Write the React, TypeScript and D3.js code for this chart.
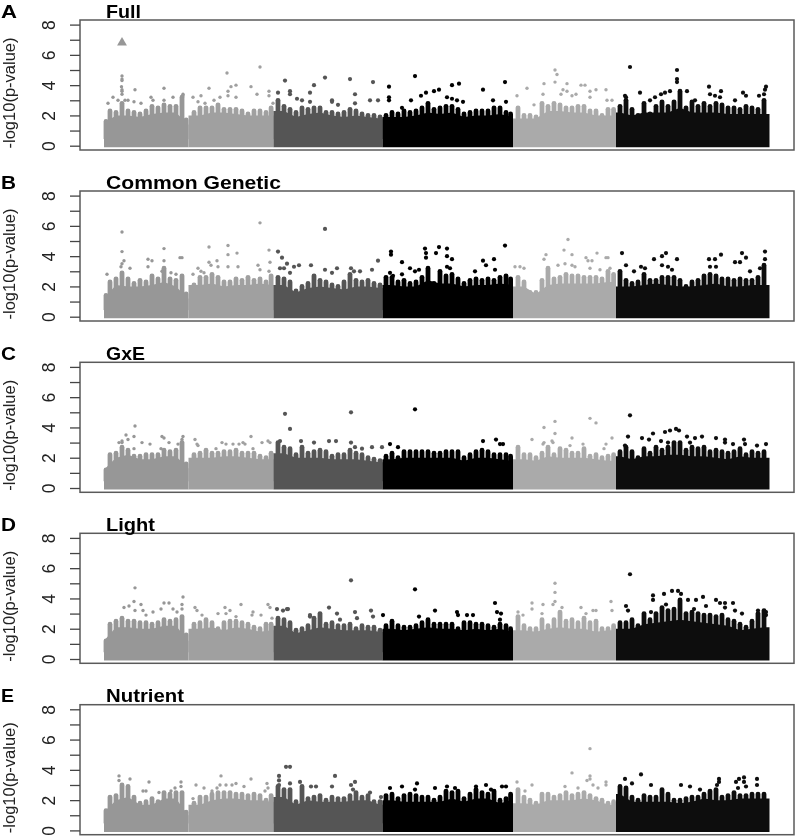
import * as d3 from 'd3';
import React, { useEffect, useRef } from 'react';

const panelLetters = ['A', 'B', 'C', 'D', 'E'];
const panelTitles = ['Full', 'Common Genetic', 'GxE', 'Light', 'Nutrient'];
const titleWidths = [35, 175, 39, 49, 78];
const letterWidths = [16, 15, 15, 15, 13];
const chromStarts = [104, 188.5, 273.5, 382.5, 513, 616];
const chromEnds = [188.5, 273.5, 382.5, 513, 616, 769.5];
const chromColors = ['#979797', '#a0a0a0', '#555555', '#000000', '#aaaaaa', '#0e0e0e'];

// tops of the point columns, read every 6 units from position 104
const fullTop = [
  1.6, 2.3, 2.2, 2.8, 2.3, 2.2, 2.1, 2.3, 2.6, 2.5, 2.7, 2.6, 2.6, 3.2, 1.7,
  2.2, 2.5, 2.5, 2.5, 2.7, 2.4, 2.4, 2.4, 2.3, 2.1, 2.3, 2.3, 2.2, 2.5,
  3.0, 2.6, 2.4, 2.2, 2.5, 2.4, 2.5, 2.5, 2.2, 2.2, 2.1, 2.2, 2.4, 2.3, 2.1, 2.0, 2.0, 1.9,
  2.0, 2.2, 2.1, 2.3, 2.2, 2.3, 2.5, 2.8, 2.4, 2.5, 2.6, 2.6, 2.4, 2.1, 2.2, 2.3, 2.3, 2.3, 2.5, 2.5, 2.2, 2.1,
  2.5, 2.0, 2.0, 1.9, 2.8, 2.6, 2.8, 2.7, 2.5, 2.5, 2.6, 2.6, 2.3, 2.3, 2.0, 2.4, 2.4,
  2.6, 3.0, 2.4, 2.0, 2.8, 2.1, 2.6, 2.9, 2.6, 2.9, 3.6, 2.5, 2.9, 2.6, 2.8, 2.6, 2.8, 2.7, 2.5, 2.5, 2.4, 2.6, 2.5, 2.4, 3.0, 2.2,
];
const commonTop = [
  1.4, 2.3, 2.5, 2.9, 2.5, 2.2, 2.4, 2.3, 2.7, 2.5, 3.2, 2.5, 2.4, 2.7, 1.5,
  2.1, 2.6, 2.6, 2.8, 2.6, 2.3, 2.3, 2.5, 2.4, 2.6, 2.4, 2.5, 2.3, 2.7,
  2.6, 2.5, 2.3, 1.7, 2.0, 2.2, 2.7, 2.4, 2.3, 2.1, 2.0, 2.3, 2.8, 2.4, 2.3, 2.4, 2.2, 2.1,
  2.6, 2.6, 2.3, 2.4, 2.2, 2.3, 2.6, 3.2, 2.2, 3.0, 2.7, 2.8, 2.5, 2.2, 2.4, 2.5, 2.4, 2.5, 2.4, 2.6, 2.7, 2.5,
  2.6, 2.3, 1.6, 1.6, 2.4, 3.2, 2.5, 2.6, 2.8, 2.7, 2.7, 2.6, 2.6, 2.6, 2.5, 3.0, 2.8,
  3.0, 2.4, 2.2, 2.3, 2.8, 2.4, 2.4, 2.6, 2.6, 2.6, 2.4, 2.0, 2.3, 2.4, 2.7, 2.8, 2.7, 2.5, 2.5, 2.4, 2.5, 2.4, 2.4, 2.6, 3.4, 2.0,
];
const gxeTop = [
  1.2, 2.2, 2.3, 2.7, 2.5, 2.1, 2.1, 2.2, 2.2, 2.2, 2.5, 2.4, 2.5, 3.0, 1.6,
  2.2, 2.3, 2.5, 2.3, 2.3, 2.4, 2.4, 2.5, 2.3, 2.3, 2.3, 2.1, 2.0, 2.3,
  3.0, 2.7, 2.6, 2.2, 2.7, 2.3, 2.4, 2.5, 2.4, 2.1, 2.2, 2.2, 2.5, 2.3, 2.2, 2.0, 1.9, 1.8,
  2.1, 2.3, 2.0, 2.4, 2.4, 2.4, 2.4, 2.4, 2.3, 2.3, 2.4, 2.4, 2.4, 2.0, 2.2, 2.4, 2.5, 2.4, 2.2, 2.2, 2.2, 2.1,
  2.7, 2.2, 2.2, 2.0, 2.3, 2.7, 2.2, 2.6, 2.5, 2.3, 2.3, 2.6, 2.1, 2.2, 2.0, 2.1, 2.2,
  2.4, 2.7, 2.4, 2.0, 2.6, 2.3, 2.7, 2.5, 2.7, 3.0, 3.0, 2.5, 2.7, 2.6, 2.7, 2.4, 2.5, 2.4, 2.3, 2.4, 2.6, 2.2, 2.4, 2.3, 2.4, 1.8,
];
const lightTop = [
  1.2, 2.3, 2.5, 2.7, 2.5, 2.5, 2.4, 2.4, 2.3, 2.4, 2.6, 2.5, 2.6, 2.8, 1.6,
  2.3, 2.4, 2.6, 2.4, 2.0, 2.4, 2.5, 2.5, 2.4, 2.3, 2.1, 2.0, 2.3, 2.3,
  2.7, 2.6, 2.4, 1.9, 2.0, 2.2, 2.7, 3.0, 2.3, 2.4, 2.2, 2.2, 2.3, 2.0, 2.2, 2.1, 2.1, 1.9,
  2.2, 2.5, 2.2, 2.1, 2.1, 2.2, 2.4, 2.6, 2.3, 2.3, 2.3, 2.3, 2.0, 2.4, 2.4, 2.3, 2.3, 2.2, 2.1, 2.3, 2.2, 2.0,
  2.8, 2.2, 2.0, 2.0, 2.6, 2.2, 2.6, 3.1, 2.5, 2.6, 2.4, 2.7, 2.4, 2.5, 2.0, 2.0, 2.2,
  2.4, 2.4, 2.6, 2.2, 3.0, 2.6, 3.0, 3.4, 3.2, 3.3, 3.9, 3.0, 3.1, 3.0, 2.9, 2.9, 2.8, 2.9, 2.6, 2.5, 2.3, 2.1, 2.5, 3.0, 3.2, 1.9,
];
const nutrientTop = [
  1.3, 2.2, 2.3, 3.0, 2.9, 2.2, 1.8, 1.9, 2.1, 1.9, 2.5, 2.4, 2.5, 2.5, 1.2,
  1.8, 2.2, 2.2, 2.4, 2.5, 2.5, 2.5, 2.4, 2.4, 2.3, 2.4, 2.3, 2.0, 2.3,
  2.9, 2.7, 2.7, 1.9, 2.9, 2.1, 2.2, 2.3, 2.0, 2.2, 2.1, 2.1, 2.3, 2.5, 2.2, 2.3, 1.9, 1.9,
  2.3, 2.4, 2.1, 2.3, 2.4, 2.3, 2.2, 2.2, 2.0, 2.2, 2.6, 2.5, 2.6, 2.1, 2.4, 2.7, 2.5, 2.4, 2.6, 2.0, 2.1, 2.4,
  2.7, 2.2, 2.0, 1.8, 2.4, 2.4, 2.2, 2.3, 2.5, 2.3, 2.4, 2.5, 2.3, 2.1, 2.0, 1.8, 1.9,
  2.9, 2.8, 2.2, 2.0, 2.3, 2.2, 2.2, 2.7, 2.4, 2.0, 2.0, 2.1, 2.2, 2.2, 2.4, 2.6, 2.7, 2.2, 2.3, 2.5, 2.3, 2.3, 2.4, 2.4, 2.4, 1.8,
];

// level of the solid mass under the columns, read every 12 units from position 104
const fullBase = [
  1.5, 2.0, 2.0, 1.9, 2.1, 2.2, 2.2, 1.4, 2.0, 2.2, 2.2, 2.1, 2.0, 2.0, 2.0,
  2.3, 1.9, 2.1, 2.2, 2.0, 1.9, 2.0, 1.9, 1.8, 1.9, 1.9, 2.0, 2.2, 2.1, 2.2, 1.9, 2.0, 2.0, 2.1, 1.9,
  1.8, 1.8, 2.3, 2.3, 2.2, 2.2, 2.0, 2.0, 2.2, 2.0, 2.2, 2.2, 2.2, 2.5, 2.2, 2.2, 2.2, 2.1, 2.1, 2.1, 2.1,
];
const commonBase = [
  1.2, 2.1, 2.0, 2.0, 2.1, 2.3, 2.0, 1.2, 2.1, 2.2, 2.0, 2.1, 2.1, 2.2, 2.1,
  2.1, 1.6, 1.9, 2.0, 1.9, 1.8, 2.0, 2.0, 1.9, 2.1, 2.0, 2.0, 2.4, 2.2, 2.2, 2.0, 2.1, 2.1, 2.2, 2.1,
  2.0, 1.5, 2.1, 2.2, 2.2, 2.2, 2.2, 2.3, 2.0, 2.0, 2.1, 2.2, 2.1, 2.0, 2.0, 2.1, 2.2, 2.0, 2.0, 2.1, 2.1,
];
const gxeBase = [
  1.2, 2.0, 2.2, 1.9, 1.9, 2.1, 2.1, 1.3, 2.0, 2.0, 2.1, 2.1, 2.0, 1.9, 1.9,
  2.3, 2.0, 2.0, 2.0, 1.9, 1.9, 1.9, 1.8, 1.7, 1.9, 2.0, 2.0, 2.0, 2.0, 2.0, 1.8, 2.0, 2.0, 1.9, 1.8,
  1.9, 1.8, 2.1, 2.0, 2.0, 2.0, 1.9, 1.8, 2.1, 1.9, 2.1, 2.1, 2.2, 2.2, 2.1, 2.1, 2.0, 1.9, 2.1, 2.0, 2.0,
];
const lightBase = [
  1.2, 2.1, 2.1, 2.0, 2.0, 2.2, 2.2, 1.2, 2.0, 2.1, 1.9, 2.1, 2.0, 1.8, 1.9,
  2.2, 1.7, 1.9, 2.1, 2.0, 1.9, 1.9, 1.9, 1.8, 2.0, 1.9, 2.0, 2.1, 2.0, 2.0, 1.9, 2.0, 1.9, 2.0, 1.8,
  1.9, 1.8, 2.0, 2.1, 2.0, 2.0, 1.8, 1.9, 2.0, 2.0, 2.3, 2.4, 2.5, 2.6, 2.5, 2.4, 2.3, 2.2, 1.9, 2.0, 2.1,
];
const nutrientBase = [
  1.2, 2.0, 2.2, 1.7, 1.7, 2.1, 2.1, 1.0, 1.7, 2.0, 2.1, 2.1, 2.0, 2.0, 1.9,
  2.2, 1.7, 2.0, 1.9, 1.9, 1.9, 2.0, 2.0, 1.7, 2.0, 1.9, 1.9, 1.9, 1.9, 2.1, 1.9, 2.1, 2.1, 1.8, 2.0,
  1.8, 1.7, 2.0, 2.0, 2.0, 2.1, 2.0, 1.7, 2.4, 1.9, 1.9, 1.9, 1.9, 1.8, 1.9, 2.1, 2.0, 2.0, 2.1, 2.1, 2.1,
];

// the scattered points above the mass, [position, -log10 p]
const fullPoints = [
  [122, 4.6], [122, 4.4], [122, 4.3], [121.5, 3.9], [122, 3.7], [122, 3.6], [122, 3.4], [113, 3.2], [135, 3.7], [164, 3.8], [118, 3], [125, 3], [128, 3], [134, 2.9], [141, 2.8], [151, 3.2], [153, 3], [164, 3], [173, 3.2], [183, 3.4], [183, 3.3], [108, 2.8],
  [193, 3.2], [201, 3.3], [209, 3.8], [227, 4.8], [228, 3.6], [231, 3.9], [236, 4], [251, 3.9], [257, 3.4], [260, 5.2], [269, 3.6], [269, 3.3], [228, 3.3], [236, 3.2], [220, 3.2], [214, 3], [198, 2.9], [205, 2.8], [273, 2.8],
  [278, 3.5], [285, 4.3], [290, 3.6], [290, 3.4], [310, 3.5], [314, 4], [325, 4.5], [332, 3], [332, 2.9], [350, 4.4], [355, 3.4], [373, 4.2], [302, 3], [297, 3.1], [370, 3], [378, 3], [310, 2.9], [355, 2.8], [338, 2.7],
  [415, 4.6], [389, 3.9], [389, 3.2], [389, 3], [452, 4], [459, 4.1], [483, 3.7], [505, 4.2], [439, 3.7], [426, 3.5], [421, 3.3], [434, 3.6], [447, 3.2], [452, 3.1], [457, 3], [463, 2.9], [493, 3], [506, 2.9], [411, 3], [402, 2.5],
  [555, 5], [557, 4.7], [527, 3.8], [544, 4.1], [555, 4.2], [567, 4.1], [563, 3.7], [581, 4], [585, 4], [596, 3.7], [606, 3.7], [576, 3.4], [561, 3.4], [543, 3.4], [517, 3.3], [590, 3.2], [607, 3], [612, 3], [534, 2.7], [567, 3.6], [572, 3.3], [590, 3.6],
  [630, 5.2], [677, 5], [677, 4.4], [677, 4.2], [640, 3.5], [687, 3.6], [709, 3.9], [721, 3.6], [661, 3.4], [665, 3.5], [670, 3.6], [625, 3.3], [626, 3.2], [710, 3.4], [715, 3.3], [743, 3.5], [746, 3.3], [759, 3.3], [766, 3.9], [765, 3.7], [764, 3.4], [720, 3.2], [735, 3], [695, 3], [655, 3.2], [650, 3],
];
const commonPoints = [
  [122, 5.6], [122, 4.3], [124, 3.7], [122, 3.5], [121, 3.3], [130, 3.2], [164, 4.5], [164, 3.7], [148, 3.8], [152, 3.7], [148, 3.3], [182, 3.9], [180, 3.9], [107, 2.8], [171, 2.9], [162, 3], [176, 2.8],
  [209, 4.6], [228, 4.7], [228, 4.1], [237, 4.2], [260, 6.2], [269, 4.4], [270, 3.6], [258, 3.4], [238, 3.3], [228, 3.3], [209, 3.6], [211, 3.4], [217, 3.7], [218, 3.3], [198, 3.2], [201, 3], [204, 2.9], [269, 3], [260, 3.1], [193, 2.8],
  [278, 4.3], [282, 3.9], [287, 3.5], [294, 3.3], [299, 3.4], [311, 3.4], [325, 5.8], [325, 3.1], [337, 3.2], [332, 2.9], [351, 3.2], [354, 3], [372, 3.1], [378, 3.7], [360, 3], [280, 3.2], [284, 3.2], [290, 2.9],
  [391, 4.3], [391, 4.1], [390, 2.9], [393, 2.7], [402, 3.6], [425, 4.5], [426, 4.2], [426, 3.9], [436, 4.2], [439, 4.6], [447, 4.5], [447, 4], [452, 3.8], [447, 3.3], [505, 4.7], [483, 3.7], [486, 3.4], [494, 3.8], [410, 3.2], [419, 3.1], [450, 3.2], [475, 3], [495, 3.1], [415, 3], [402, 2.8],
  [568, 5.1], [564, 4.4], [546, 4.1], [572, 4.1], [597, 4.2], [586, 3.9], [606, 3.9], [608, 3.9], [565, 3.5], [558, 3.4], [544, 3.8], [572, 3.4], [575, 3.3], [588, 3.7], [592, 3.7], [515, 3.3], [520, 3.3], [524, 3.2], [590, 3.2], [600, 3.1], [610, 3.2],
  [622, 4.2], [626, 3.4], [654, 3.8], [662, 4], [666, 4.2], [677, 3.8], [709, 3.8], [715, 3.8], [721, 4.1], [735, 3.6], [740, 3.6], [742, 4.2], [746, 3.9], [765, 4.3], [765, 3.8], [662, 3.4], [668, 3.3], [672, 3.1], [710, 3.3], [716, 3.3], [641, 3.3], [645, 3.2], [750, 3], [760, 3.2], [634, 3],
];
const gxePoints = [
  [135, 4.1], [126, 3.5], [134, 3.4], [122, 3.1], [128, 3.2], [142, 3], [150, 2.9], [162, 3.4], [164, 3.3], [169, 3], [183, 3.4], [182, 3.2], [178, 2.9], [122, 3], [134, 2.6], [119, 3], [161, 2.6],
  [195, 3.2], [198, 2.8], [222, 3], [226, 2.9], [233, 2.9], [239, 2.9], [243, 3], [245, 2.9], [251, 3.4], [262, 3], [268, 3.1], [270, 3], [253, 2.6], [216, 2.6], [197, 2.9],
  [285, 4.9], [290, 3.9], [301, 3.1], [314, 3], [329, 3.1], [336, 3.1], [351, 5], [351, 3], [372, 2.7], [382, 2.7], [355, 2.7], [362, 2.6], [280, 3.1],
  [390, 2.9], [398, 2.7], [415, 5.2], [483, 3.1], [496, 3.2], [500, 2.9], [503, 2.9],
  [555, 4.4], [544, 4], [555, 3.6], [590, 4.6], [596, 4.3], [532, 3.2], [544, 3], [553, 3], [552, 3.1], [572, 3.3], [612, 3.3], [606, 2.9], [543, 2.9], [570, 2.8], [583, 2.9], [604, 2.6],
  [630, 4.8], [628, 3.4], [642, 3.3], [653, 3.6], [665, 3.7], [670, 3.8], [676, 3.9], [679, 3.8], [687, 3.4], [695, 3.3], [702, 3.4], [716, 3.3], [725, 3.2], [725, 3], [744, 3.2], [745, 2.9], [766, 2.9], [757, 2.8], [733, 2.9], [661, 3.1], [668, 3], [649, 3.2], [625, 2.8], [690, 3],
];
const lightPoints = [
  [135, 4.7], [134, 3.8], [141, 3.6], [124, 3.4], [129, 3.5], [135, 3.2], [143, 3.2], [153, 3.1], [161, 3.3], [164, 3.7], [169, 3.7], [183, 4.1], [182, 3.6], [182, 3.3], [173, 3.3], [177, 3.1], [146, 2.9],
  [195, 3.4], [197, 3.2], [202, 2.9], [225, 3.4], [230, 3.2], [241, 3.6], [253, 3.1], [252, 2.9], [261, 2.9], [268, 3.6], [270, 3.4], [218, 3], [226, 3], [236, 2.8], [272, 2.7],
  [277, 3.3], [283, 3.2], [287, 3.3], [288, 3.3], [310, 2.9], [329, 3.4], [337, 3], [351, 5.2], [355, 3.1], [371, 3.2], [373, 2.8], [383, 2.9], [357, 2.7], [340, 2.6], [310, 2.8],
  [415, 4.6], [495, 3.7], [497, 3.1], [501, 3], [435, 3.2], [419, 2.8], [457, 3.1], [458, 2.9], [467, 2.9], [473, 2.9], [500, 2.6],
  [555, 5], [555, 4.4], [532, 3.7], [532, 3.3], [543, 3.6], [553, 3.6], [555, 3.8], [611, 3.8], [612, 3.2], [562, 3.4], [581, 3.4], [593, 3.2], [596, 3.2], [518, 3.1], [523, 2.9], [542, 3], [586, 3],
  [630, 5.6], [653, 4.2], [653, 3.9], [664, 4.3], [672, 4.5], [678, 4.5], [681, 4.3], [688, 3.9], [696, 3.9], [703, 4.1], [706, 3.5], [716, 3.9], [720, 3.7], [725, 3.7], [725, 3.4], [733, 3.7], [735, 3.2], [742, 3], [626, 3.5], [628, 3.2], [651, 3.1], [666, 3.6], [694, 3.3], [758, 3.2], [766, 3.1], [766, 2.9],
];
const nutrientPoints = [
  [119, 3.6], [119, 3.3], [130, 3.4], [149, 3.2], [146, 2.6], [143, 2.6], [159, 2.5], [181, 3.2], [181, 2.9], [175, 2.8], [171, 2.6],
  [196, 3], [193, 2.1], [204, 2.8], [212, 2.6], [221, 3.6], [220, 3], [217, 2.8], [226, 3], [232, 3], [236, 3.1], [244, 2.9], [251, 3.4], [267, 3.1], [268, 2.8], [265, 2.6],
  [279, 3.6], [279, 3.3], [279, 3], [286, 4.2], [290, 4.2], [290, 3.1], [300, 3.2], [311, 2.9], [316, 2.9], [335, 3.6], [332, 2.9], [351, 3], [355, 3.2], [353, 2.7], [370, 2.5], [381, 2.2],
  [417, 3.1], [402, 2.9], [390, 2.8], [435, 2.8], [447, 2.9], [455, 2.8], [476, 2.9], [486, 3], [502, 2.9], [506, 2.9], [415, 2.7], [491, 2.7], [494, 2.6],
  [590, 5.4], [572, 3.8], [590, 3.6], [590, 3.4], [517, 3.2], [532, 3], [587, 3.3], [606, 3.2], [606, 3], [565, 2.9], [578, 2.8], [593, 3], [598, 2.8], [525, 2.6],
  [625, 3.4], [632, 3.1], [641, 3.7], [681, 3], [690, 2.9], [719, 3.4], [719, 3.2], [717, 3], [739, 3.4], [744, 3.5], [757, 3.4], [744, 3.2], [757, 3], [746, 2.9], [736, 3.2], [738, 2.8], [700, 2.7], [651, 3],
];
// the single hit drawn as a triangle in panel A
const fullTriangle = [122, 6.8];

const tops = [fullTop, commonTop, gxeTop, lightTop, nutrientTop];
const bases = [fullBase, commonBase, gxeBase, lightBase, nutrientBase];
const points = [fullPoints, commonPoints, gxePoints, lightPoints, nutrientPoints];

const panelY = [20, 191, 362.3, 533.3, 704.7];
const panelH = 130;
const binStart = 104;
const yTicks = [0, 1, 2, 3, 4, 5, 6, 7, 8];

export default function App() {
  const rootRef = useRef<SVGSVGElement | null>(null);

  useEffect(() => {
    const svg = d3.select(rootRef.current);
    svg.selectAll('*').remove();

    svg.append('filter')
      .attr('id', 'soft')
      .append('feGaussianBlur')
      .attr('stdDeviation', 0.45);

    const root = svg.append('g').attr('filter', 'url(#soft)');
    root.append('rect').attr('width', 797).attr('height', 838).attr('fill', '#fff');

    const x = d3.scaleLinear().domain([80, 794]).range([80, 794]);
    const chromOf = (pos: number) => Math.max(0, d3.bisectRight(chromStarts, pos) - 1);
    const isDark = (c: number) => c >= 2 && c !== 4;

    panelTitles.forEach((title, p) => {
      const top = panelY[p];
      const y = d3.scaleLinear().domain([0, 8]).range([top + 125.7, top + 4.6]);
      const g = root.append('g');

      const columns = tops[p].map((v, i) => ({ pos: binStart + i * 6, v }));
      const mass = bases[p].map((v, i) => ({ pos: binStart + i * 12, v }));
      const area = d3.area<{ pos: number; v: number }>()
        .x(d => x(d.pos))
        .y0(y(-0.1))
        .y1(d => y(d.v));

      chromStarts.forEach((start, c) => {
        const end = chromEnds[c];
        const inside = mass.filter(d => d.pos >= start && d.pos <= end);
        const shape = [
          { pos: start, v: inside[0].v },
          ...inside,
          { pos: end, v: inside[inside.length - 1].v },
        ];
        g.selectAll(null)
          .data(columns.filter(d => d.pos >= start && d.pos <= end))
          .enter()
          .append('line')
          .attr('x1', d => x(Math.max(start + 2, Math.min(d.pos, end - 2.4))))
          .attr('x2', d => x(Math.max(start + 2, Math.min(d.pos, end - 2.4))))
          .attr('y1', y(0.5))
          .attr('y2', d => y(d.v))
          .attr('stroke', chromColors[c])
          .attr('stroke-width', 4.8)
          .attr('stroke-linecap', 'round');
        g.append('path').attr('d', area(shape)).attr('fill', chromColors[c]);
      });

      g.selectAll(null)
        .data(points[p])
        .enter()
        .append('circle')
        .attr('cx', d => x(d[0]))
        .attr('cy', d => y(d[1]))
        .attr('r', d => (isDark(chromOf(d[0])) ? 2.1 : 1.7))
        .attr('fill', d => chromColors[chromOf(d[0])]);

      if (p === 0) {
        g.append('path')
          .attr('d', d3.symbol(d3.symbolTriangle, 42)())
          .attr('transform', `translate(${x(fullTriangle[0])},${y(fullTriangle[1])})`)
          .attr('fill', chromColors[0]);
      }

      g.append('rect')
        .attr('x', 80)
        .attr('y', top)
        .attr('width', 714)
        .attr('height', panelH)
        .attr('fill', 'none')
        .attr('stroke', '#5a5a5a')
        .attr('stroke-width', 1.5);

      const axis = root.append('g')
        .attr('transform', 'translate(80,0)')
        .call(d3.axisLeft(y).tickValues(yTicks).tickSize(10).tickFormat(d => (+d % 2 === 0 ? String(d) : '')))
        .call(a => a.select('.domain').remove());
      axis.selectAll('.tick line').attr('stroke', '#444').attr('stroke-width', 1.3);
      axis.selectAll('.tick text')
        .attr('x', 0)
        .attr('y', 0)
        .attr('transform', 'translate(-31,0) rotate(-90)')
        .attr('dy', '0.36em')
        .style('text-anchor', 'middle')
        .style('font-family', '"Liberation Sans", sans-serif')
        .style('font-size', '17.5px')
        .attr('fill', '#222');

      root.append('text')
        .attr('transform', `translate(15,${top + 73}) rotate(-90)`)
        .style('text-anchor', 'middle')
        .style('font-family', '"Liberation Sans", sans-serif')
        .style('font-size', '16.5px')
        .attr('fill', '#222')
        .text('-log10(p-value)');

      root.append('text')
        .attr('x', 1)
        .attr('y', top - 2.4)
        .attr('textLength', letterWidths[p])
        .attr('lengthAdjust', 'spacingAndGlyphs')
        .style('font-family', '"Liberation Sans", sans-serif')
        .style('font-weight', 'bold')
        .style('font-size', '19px')
        .text(panelLetters[p]);

      root.append('text')
        .attr('x', 106)
        .attr('y', top - 2.4)
        .attr('textLength', titleWidths[p])
        .attr('lengthAdjust', 'spacingAndGlyphs')
        .style('font-family', '"Liberation Sans", sans-serif')
        .style('font-weight', 'bold')
        .style('font-size', '19px')
        .text(title);
    });
  }, []);

  return (
    <svg
      ref={rootRef}
      width={797}
      height={838}
      style={{ position: 'absolute', left: 0, top: 0, background: '#fff' }}
    />
  );
}
